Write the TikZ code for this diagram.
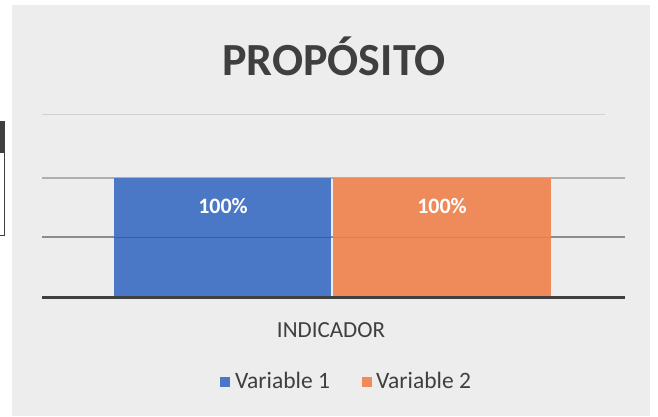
\documentclass[tikz,border=0pt]{standalone}
\usepackage{fontspec}
\setmainfont{Carlito}
\definecolor{panel}{HTML}{EDEDED}
\definecolor{txt}{HTML}{3F3F3F}
\definecolor{grid}{HTML}{8C8C8C}
\definecolor{bblue}{HTML}{4A77C6}
\definecolor{borange}{HTML}{EF8A5B}
\tikzset{
  gridline/.style={draw=grid, line width=1.2pt},
  lab/.style={text=white, font=\bfseries\fontsize{22}{24}\selectfont, inner sep=0pt, anchor=base},
  legsq/.style={minimum size=10pt, inner sep=0pt},
  legtxt/.style={text=txt, font=\fontsize{23.5}{26}\selectfont, inner sep=0pt, anchor=base west}
}
\begin{document}
\begin{tikzpicture}[x=1pt,y=-1pt]
\useasboundingbox (0,0) rectangle (658,416);
\fill[white] (0,0) rectangle (658,416);
\fill[panel] (12,5) rectangle (650,416);
% scan artifact on left
\fill[txt] (0,121) rectangle (5,152);
\draw[txt, line width=0.8pt] (0,152) -- (4,152) -- (4,235) -- (0,235);
% faint separator
\draw[grid!40, line width=0.6pt] (42,114) -- (605,114);
% title
\node[text=txt, font=\bfseries\fontsize{46}{50}\selectfont, inner sep=0pt, anchor=base] (title) at (334,75) {PROPÓSITO};
% gridlines
\draw[gridline, draw=grid!70] (42,178) -- (625,178);
\draw[gridline] (42,237) -- (625,237);
% bars
\fill[bblue] (114,178) rectangle (331,297);
\fill[borange] (333,178) rectangle (551,297);
\draw[bblue!80!black, line width=0.6pt] (114,237) -- (331,237);
\draw[borange!85!red, line width=0.6pt] (333,237) -- (551,237);
\node[lab] (v1) at (223,213) {100\%};
\node[lab] (v2) at (442,213) {100\%};
% axis
\draw[txt, line width=3pt] (42,297) -- (625,297);
\node[text=txt, font=\fontsize{23}{26}\selectfont, inner sep=0pt, anchor=base] (cat) at (331,337) {INDICADOR};
% legend
\node[legsq, fill=bblue] (sq1) at (225,382) {};
\node[legtxt] (l1) at (235,388) {Variable 1};
\node[legsq, fill=borange] (sq2) at (367,382) {};
\node[legtxt] (l2) at (376,388) {Variable 2};
\end{tikzpicture}
\end{document}
